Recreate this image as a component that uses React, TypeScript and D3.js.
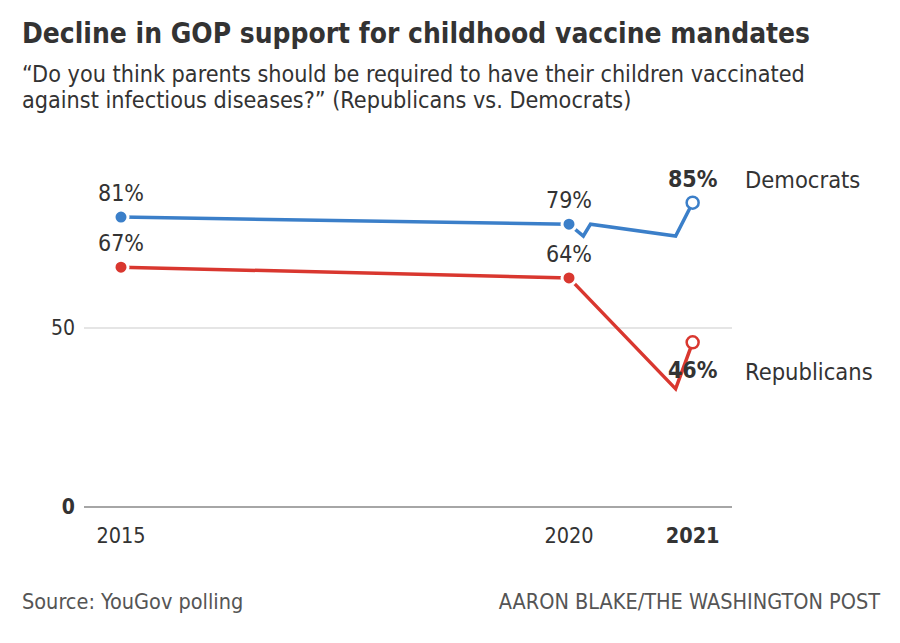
import * as d3 from 'd3';
import React from 'react';

// poll dates as decimal years, values in percent
const demDates = [2015, 2020, 2020.16, 2020.24, 2021.19, 2021.38];
const demValues = [81, 79, 75.7, 79, 75.7, 85];
const repDates = [2015, 2020, 2021.19, 2021.38];
const repValues = [67, 64, 33, 46];

const labelledDates = [2015, 2020, 2021.38];
const demLabels = ['81%', '79%', '85%'];
const repLabels = ['67%', '64%', '46%'];

const xTickDates = [2015, 2020, 2021.38];
const xTickLabels = ['2015', '2020', '2021'];
const yTicks = [0, 50];

const BLUE = '#3b7fc9';
const RED = '#d9372f';
const TEXT = '#333';
const FONT = '"DejaVu Sans Condensed", "Liberation Sans Narrow", sans-serif';

const App: React.FC = () => {
    const width = 900;
    const height = 643;

    const x = d3.scaleLinear().domain([2015, 2020]).range([121, 569]);
    const y = d3.scaleLinear().domain([0, 50]).range([507, 328]);

    const line = d3
        .line<[number, number]>()
        .x((d) => x(d[0]))
        .y((d) => y(d[1]));

    const dem = demDates.map((d, i) => [d, demValues[i]] as [number, number]);
    const rep = repDates.map((d, i) => [d, repValues[i]] as [number, number]);

    const series = [
        { name: 'Democrats', color: BLUE, points: dem, labels: demLabels },
        { name: 'Republicans', color: RED, points: rep, labels: repLabels },
    ];

    const last = xTickDates.length - 1;

    return (
        <svg
            width={width}
            height={height}
            style={{ position: 'absolute', left: 0, top: 0, background: '#fff' }}
            fontFamily={FONT}
        >
            <text x={22} y={43} fontSize={27.9} fontWeight="bold" fill={TEXT}>
                Decline in GOP support for childhood vaccine mandates
            </text>
            <text x={22} y={82} fontSize={23.2} fill={TEXT}>
                “Do you think parents should be required to have their children vaccinated
            </text>
            <text x={22} y={108} fontSize={23.2} fill={TEXT}>
                against infectious diseases?” (Republicans vs. Democrats)
            </text>

            {yTicks.map((t) => (
                <g key={t}>
                    <line
                        x1={84}
                        x2={732}
                        y1={y(t)}
                        y2={y(t)}
                        stroke={t === 0 ? '#888' : '#ccc'}
                        strokeWidth={t === 0 ? 1.5 : 1.2}
                    />
                    <text
                        x={75}
                        y={y(t)}
                        dy="0.35em"
                        textAnchor="end"
                        fontSize={21}
                        fontWeight={t === 0 ? 'bold' : 'normal'}
                        fill={TEXT}
                    >
                        {t}
                    </text>
                </g>
            ))}

            {xTickDates.map((t, i) => (
                <text
                    key={t}
                    x={x(t)}
                    y={543}
                    textAnchor="middle"
                    fontSize={21.5}
                    fontWeight={i === last ? 'bold' : 'normal'}
                    fill={TEXT}
                >
                    {xTickLabels[i]}
                </text>
            ))}

            {series.map((s) => (
                <g key={s.name}>
                    <path
                        d={line(s.points) ?? ''}
                        fill="none"
                        stroke={s.color}
                        strokeWidth={3.5}
                        strokeLinejoin="miter"
                    />
                    {labelledDates.map((d, i) => {
                        const p = s.points.find((pt) => pt[0] === d)!;
                        const isLast = i === last;
                        return (
                            <circle
                                key={d}
                                cx={x(p[0])}
                                cy={y(p[1])}
                                r={isLast ? 6 : 7}
                                fill={isLast ? '#fff' : s.color}
                                stroke={isLast ? s.color : '#fff'}
                                strokeWidth={isLast ? 2.5 : 3}
                            />
                        );
                    })}
                </g>
            ))}

            {series.map((s) => (
                <g key={s.name + '-labels'}>
                    {labelledDates.map((d, i) => {
                        const p = s.points.find((pt) => pt[0] === d)!;
                        const isLast = i === last;
                        const ly =
                            isLast && s.name === 'Republicans'
                                ? y(p[1]) + 36
                                : y(p[1]) - 16;
                        return (
                            <text
                                key={d}
                                x={x(d)}
                                y={ly}
                                textAnchor="middle"
                                fontSize={23}
                                fontWeight={isLast ? 'bold' : 'normal'}
                                fill={TEXT}
                            >
                                {s.labels[i]}
                            </text>
                        );
                    })}
                    <text
                        x={745}
                        y={s.name === 'Democrats' ? 188 : 380}
                        fontSize={23.5}
                        fill={TEXT}
                    >
                        {s.name}
                    </text>
                </g>
            ))}

            <text x={22} y={609} fontSize={21.5} fill="#555">
                Source: YouGov polling
            </text>
            <text x={880} y={609} textAnchor="end" fontSize={21.5} fill="#555">
                AARON BLAKE/THE WASHINGTON POST
            </text>
        </svg>
    );
};

export default App;
